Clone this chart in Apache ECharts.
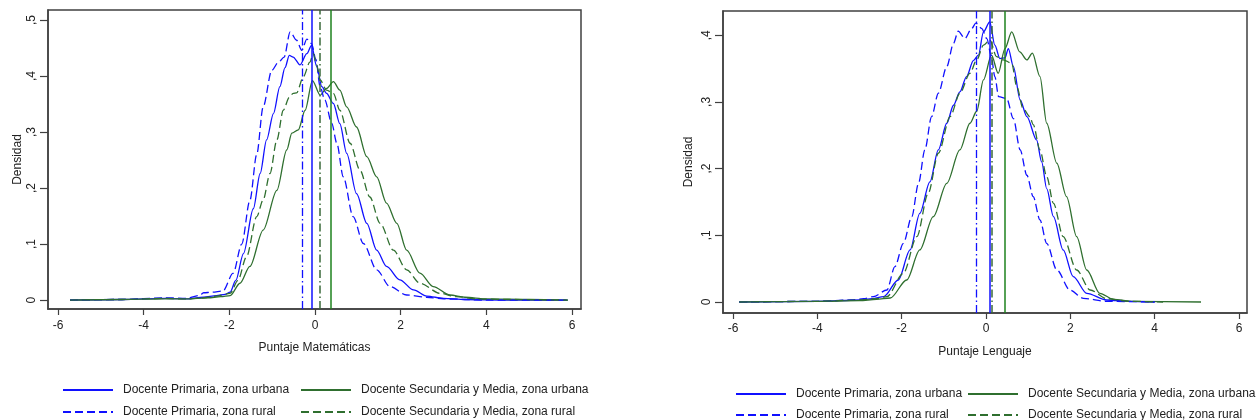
<!DOCTYPE html>
<html>
<head>
<meta charset="utf-8">
<script src="https://cdn.jsdelivr.net/npm/echarts@6/dist/echarts.min.js"></script>
<style>
html,body{margin:0;padding:0;background:#fff;}
#c{width:1256px;height:420px;}
</style>
</head>
<body>
<div id="c"></div>
<script>
// ---- Data ----
const seriesNames = [
  'Docente Primaria, zona urbana',
  'Docente Secundaria y Media, zona urbana',
  'Docente Primaria, zona rural',
  'Docente Secundaria y Media, zona rural'
];
const xTicks = [-6, -4, -2, 0, 2, 4, 6];
const yTicksMat = [0, 0.1, 0.2, 0.3, 0.4, 0.5];
const yTicksLen = [0, 0.1, 0.2, 0.3, 0.4];
const xTitleMat = 'Puntaje Matemáticas';
const xTitleLen = 'Puntaje Lenguaje';
const yTitle = 'Densidad';

// Means (vertical lines): primaria urbana, secundaria urbana, primaria rural, secundaria rural
const meansMat = [-0.08, 0.37, -0.29, 0.11];
const meansLen = [0.095, 0.45, -0.24, 0.13];

// Matemáticas densities [x, y]
const primUrbMat = [[-5.72,0],[-4.5,0.001],[-3.5,0.003],[-3,0.002],[-2.6,0.005],[-2.3,0.008],[-2.1,0.01],[-1.98,0.014],[-1.85,0.035],[-1.67,0.083],[-1.44,0.163],[-1.28,0.226],[-1.13,0.286],[-0.97,0.333],[-0.82,0.381],[-0.7,0.415],[-0.6,0.437],[-0.51,0.434],[-0.35,0.42],[-0.19,0.44],[-0.08,0.455],[0.04,0.417],[0.16,0.381],[0.27,0.369],[0.43,0.351],[0.58,0.315],[0.74,0.262],[0.97,0.19],[1.21,0.137],[1.44,0.089],[1.67,0.06],[1.98,0.036],[2.3,0.018],[2.61,0.007],[3.0,0.003],[3.5,0.001],[4.5,0],[5.9,0]];
const primRurMat = [[-5.72,0],[-4.5,0.001],[-3.5,0.004],[-3.0,0.003],[-2.7,0.008],[-2.6,0.013],[-2.4,0.014],[-2.15,0.016],[-1.91,0.048],[-1.71,0.1],[-1.52,0.178],[-1.36,0.26],[-1.21,0.345],[-1.01,0.41],[-0.85,0.425],[-0.72,0.434],[-0.58,0.479],[-0.43,0.464],[-0.31,0.446],[-0.19,0.466],[-0.08,0.458],[0.02,0.43],[0.12,0.381],[0.23,0.357],[0.39,0.316],[0.51,0.28],[0.66,0.22],[0.89,0.149],[1.13,0.101],[1.44,0.054],[1.75,0.024],[2.14,0.009],[2.61,0.005],[3.0,0.002],[4,0],[5.9,0]];
const secUrbMat = [[-5.72,0],[-4.5,0.001],[-3.5,0.002],[-3,0.002],[-2.5,0.004],[-2.2,0.006],[-1.98,0.008],[-1.75,0.03],[-1.52,0.06],[-1.21,0.125],[-0.89,0.196],[-0.66,0.268],[-0.54,0.298],[-0.39,0.304],[-0.23,0.339],[-0.06,0.392],[0.12,0.366],[0.27,0.378],[0.43,0.39],[0.58,0.375],[0.74,0.345],[0.97,0.309],[1.21,0.256],[1.44,0.22],[1.67,0.173],[1.91,0.137],[2.14,0.089],[2.45,0.048],[2.76,0.024],[3.15,0.009],[3.5,0.005],[4,0.002],[5,0.001],[5.9,0]];
const secRurMat = [[-5.72,0],[-4.5,0.001],[-3.5,0.003],[-3,0.002],[-2.6,0.004],[-2.3,0.007],[-1.98,0.012],[-1.8,0.035],[-1.6,0.077],[-1.36,0.149],[-1.21,0.179],[-1.05,0.226],[-0.89,0.286],[-0.74,0.339],[-0.6,0.362],[-0.51,0.369],[-0.43,0.37],[-0.27,0.399],[-0.12,0.425],[-0.04,0.44],[0.04,0.42],[0.12,0.393],[0.27,0.375],[0.43,0.369],[0.58,0.339],[0.82,0.28],[1.05,0.232],[1.28,0.184],[1.52,0.137],[1.83,0.089],[2.14,0.054],[2.45,0.03],[2.92,0.012],[3.3,0.006],[3.8,0.002],[4.5,0.001],[5.9,0]];

// Lenguaje densities [x, y]
const primUrbLen = [[-5.85,0],[-4,0.001],[-3,0.003],[-2.7,0.005],[-2.43,0.008],[-2.08,0.033],[-1.8,0.078],[-1.57,0.133],[-1.33,0.18],[-1.13,0.228],[-0.93,0.268],[-0.77,0.295],[-0.62,0.315],[-0.46,0.338],[-0.3,0.362],[-0.18,0.37],[-0.06,0.405],[0.09,0.42],[0.21,0.385],[0.33,0.365],[0.45,0.366],[0.53,0.38],[0.65,0.353],[0.81,0.303],[0.97,0.278],[1.2,0.243],[1.32,0.21],[1.44,0.17],[1.6,0.128],[1.83,0.078],[2.07,0.038],[2.39,0.013],[2.86,0.003],[3.4,0.001],[4.0,0]];
const primRurLen = [[-5.85,0],[-4,0.001],[-3.2,0.003],[-2.9,0.005],[-2.67,0.008],[-2.35,0.018],[-2.16,0.053],[-1.96,0.088],[-1.76,0.128],[-1.6,0.178],[-1.45,0.228],[-1.29,0.278],[-1.13,0.313],[-0.93,0.353],[-0.77,0.388],[-0.66,0.406],[-0.5,0.395],[-0.34,0.41],[-0.24,0.418],[-0.1,0.41],[0.02,0.395],[0.12,0.37],[0.21,0.338],[0.3,0.308],[0.49,0.305],[0.65,0.275],[0.81,0.228],[0.97,0.19],[1.12,0.158],[1.28,0.123],[1.44,0.088],[1.68,0.048],[1.99,0.018],[2.31,0.0055],[2.86,0.001],[4.0,0]];
const secUrbLen = [[-5.85,0],[-4,0.001],[-3,0.002],[-2.6,0.004],[-2.27,0.006],[-1.88,0.033],[-1.57,0.078],[-1.25,0.128],[-0.93,0.178],[-0.62,0.228],[-0.38,0.268],[-0.22,0.286],[-0.06,0.333],[0.13,0.37],[0.29,0.343],[0.45,0.38],[0.61,0.405],[0.8,0.375],[0.97,0.363],[1.1,0.373],[1.28,0.338],[1.44,0.268],[1.68,0.208],[1.91,0.158],[2.15,0.098],[2.39,0.048],[2.7,0.013],[3.02,0.004],[3.5,0.001],[5.1,0]];
const secRurLen = [[-5.85,0],[-4,0.001],[-3,0.003],[-2.6,0.005],[-2.35,0.008],[-1.96,0.043],[-1.64,0.098],[-1.37,0.163],[-1.13,0.223],[-0.85,0.278],[-0.62,0.313],[-0.38,0.343],[-0.22,0.363],[-0.06,0.385],[0.09,0.393],[0.25,0.368],[0.41,0.363],[0.61,0.358],[0.73,0.323],[0.88,0.29],[1.04,0.278],[1.12,0.266],[1.28,0.228],[1.44,0.188],[1.6,0.148],[1.83,0.098],[2.15,0.048],[2.47,0.018],[2.86,0.005],[3.4,0.001],[4.2,0]];

// ---- Styles ----
const BLUE = '#1010ff';
const GREEN = '#2f6f2f';
const GREEN_V = '#1e821e';
const FONT = 'Liberation Sans, Arial, sans-serif';
const DASH = [8, 4];
const DASHDOT = [8, 3, 1.5, 3];

const styles = [
  {color: BLUE, type: 'solid', vcolor: BLUE, vtype: 'solid', vwidth: 1.5},
  {color: GREEN, type: 'solid', vcolor: GREEN_V, vtype: 'solid', vwidth: 1.5},
  {color: BLUE, type: DASH, vcolor: BLUE, vtype: DASHDOT, vwidth: 1.3},
  {color: GREEN, type: DASH, vcolor: '#3a6a3a', vtype: DASHDOT, vwidth: 1.5}
];

function yFmt(v) {
  const r = Math.round(v * 10);
  return r === 0 ? '0' : ',' + r;
}

function mkSeries(data, idx, gridIdx, mean) {
  const s = styles[idx];
  return {
    name: seriesNames[idx],
    type: 'line',
    xAxisIndex: gridIdx, yAxisIndex: gridIdx,
    data: data,
    symbol: 'none', showSymbol: false,
    smooth: 0.3, smoothMonotone: 'x',
    lineStyle: {color: s.color, width: 1.3, type: s.type},
    itemStyle: {color: s.color},
    silent: true,
    z: 3,
    markLine: {
      silent: true, symbol: 'none', label: {show: false},
      animation: false,
      lineStyle: {color: s.vcolor, type: s.vtype, width: s.vwidth},
      data: [{xAxis: mean}]
    }
  };
}

function mkXAxis(gridIdx, min, max, title, margin) {
  return {
    type: 'value', gridIndex: gridIdx, min: min, max: max,
    name: title, nameLocation: 'middle', nameGap: 33,
    nameTextStyle: {fontFamily: FONT, fontSize: 12, color: '#222'},
    axisLine: {show: true, onZero: false, lineStyle: {color: '#404040', width: 1.5}},
    axisTick: {show: true, length: 6, customValues: xTicks, lineStyle: {color: '#404040', width: 1.2}},
    axisLabel: {customValues: xTicks, fontFamily: FONT, fontSize: 12, color: '#222', margin: margin,
      formatter: v => String(v)},
    splitLine: {show: false}
  };
}

function mkYAxis(gridIdx, min, max, ticks, gap) {
  return {
    type: 'value', gridIndex: gridIdx, min: min, max: max,
    name: yTitle, nameLocation: 'middle', nameGap: gap, nameRotate: 90,
    nameTextStyle: {fontFamily: FONT, fontSize: 12, color: '#222'},
    axisLine: {show: true, onZero: false, lineStyle: {color: '#404040', width: 1.5}},
    axisTick: {show: true, length: 8, customValues: ticks, lineStyle: {color: '#404040', width: 1.2}},
    axisLabel: {customValues: ticks, rotate: 90, fontFamily: FONT, fontSize: 12, color: '#222', margin: 10,
      formatter: yFmt},
    splitLine: {show: false}
  };
}

function mkLegend(idx, left, top) {
  return {
    data: [seriesNames[idx]],
    left: left, top: top, padding: 0,
    itemWidth: 50, itemHeight: 12, itemGap: 0,
    selectedMode: false,
    itemStyle: {opacity: 0, borderWidth: 0},
    textStyle: {fontFamily: FONT, fontSize: 12, color: '#222', padding: [0, 0, 0, 5]}
  };
}

const chart = echarts.init(document.getElementById('c'), null, {renderer: 'canvas'});
chart.setOption({
  animation: false,
  backgroundColor: '#fff',
  grid: [
    {left: 48, top: 10, width: 533, height: 299, show: true, borderColor: '#404040', borderWidth: 1.5, containLabel: false},
    {left: 723, top: 11, width: 524, height: 302, show: true, borderColor: '#404040', borderWidth: 1.5, containLabel: false}
  ],
  xAxis: [
    mkXAxis(0, -6.233, 6.21, xTitleMat, 11),
    mkXAxis(1, -6.237, 6.19, xTitleLen, 10)
  ],
  yAxis: [
    mkYAxis(0, -0.016, 0.518, yTicksMat, 24),
    mkYAxis(1, -0.0165, 0.4363, yTicksLen, 28)
  ],
  legend: [
    mkLegend(0, 62, 384), mkLegend(1, 300, 384), mkLegend(2, 62, 406), mkLegend(3, 300, 406),
    mkLegend(0, 735, 388), mkLegend(1, 967, 388), mkLegend(2, 735, 409), mkLegend(3, 967, 409)
  ],
  series: [
    mkSeries(primUrbMat, 0, 0, meansMat[0]),
    mkSeries(secUrbMat, 1, 0, meansMat[1]),
    mkSeries(primRurMat, 2, 0, meansMat[2]),
    mkSeries(secRurMat, 3, 0, meansMat[3]),
    mkSeries(primUrbLen, 0, 1, meansLen[0]),
    mkSeries(secUrbLen, 1, 1, meansLen[1]),
    mkSeries(primRurLen, 2, 1, meansLen[2]),
    mkSeries(secRurLen, 3, 1, meansLen[3])
  ]
});
</script>
</body>
</html>
